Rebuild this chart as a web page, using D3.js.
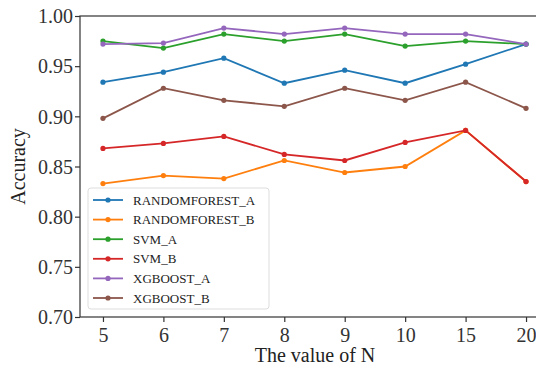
<!DOCTYPE html>
<html>
<head>
<meta charset="utf-8">
<script src="https://cdn.jsdelivr.net/npm/d3@7"></script>
<style>
  body { margin: 0; background: #fff; }
  svg { display: block; font-family: "Liberation Serif", "DejaVu Serif", serif; }
</style>
</head>
<body>
<svg id="chart" width="536" height="372"></svg>
<script>
// values
var nValues = ["5", "6", "7", "8", "9", "10", "15", "20"];
var seriesNames = ["RANDOMFOREST_A", "RANDOMFOREST_B", "SVM_A", "SVM_B", "XGBOOST_A", "XGBOOST_B"];
var rfA = [0.934, 0.944, 0.958, 0.933, 0.946, 0.933, 0.952, 0.972];
var rfB = [0.833, 0.841, 0.838, 0.856, 0.844, 0.850, 0.886, 0.835];
var svmA = [0.975, 0.968, 0.982, 0.975, 0.982, 0.970, 0.975, 0.972];
var svmB = [0.868, 0.873, 0.880, 0.862, 0.856, 0.874, 0.886, 0.835];
var xgbA = [0.972, 0.973, 0.988, 0.982, 0.988, 0.982, 0.982, 0.972];
var xgbB = [0.898, 0.928, 0.916, 0.910, 0.928, 0.916, 0.934, 0.908];
var yTicks = [0.70, 0.75, 0.80, 0.85, 0.90, 0.95, 1.00];

var colors = ["#1f77b4", "#ff7f0e", "#2ca02c", "#d62728", "#9467bd", "#8c564b"];
var allSeries = [rfA, rfB, svmA, svmB, xgbA, xgbB];

var svg = d3.select("#chart");
var m = { left: 80, top: 16, bottom: 317, right: 549 };

// categorical positions, matplotlib style margins
var x = d3.scaleLinear().domain([-0.38, nValues.length - 1 + 0.38]).range([m.left, m.right]);
var y = d3.scaleLinear().domain([0.70, 1.00]).range([m.bottom, m.top]);

// axes
var xAxis = d3.axisBottom(x)
    .tickValues(d3.range(nValues.length))
    .tickFormat(function (i) { return nValues[i]; })
    .tickSize(5).tickSizeOuter(0);
var yAxis = d3.axisLeft(y)
    .tickValues(yTicks)
    .tickFormat(d3.format(".2f"))
    .tickSize(5).tickSizeOuter(0);

var gx = svg.append("g").attr("transform", "translate(0," + m.bottom + ")").call(xAxis);
var gy = svg.append("g").attr("transform", "translate(" + m.left + ",0)").call(yAxis);
[gx, gy].forEach(function (g) {
    g.select(".domain").remove();
    g.selectAll("line").attr("stroke", "#333").attr("stroke-width", 1.2);
    g.selectAll("text").attr("fill", "#333").style("font-size", "20px")
        .style("font-family", "'Liberation Serif', serif");
});
gx.selectAll("text").attr("dy", "0.95em").attr("y", 6);
gy.selectAll("text").attr("x", -7).attr("dy", "0.34em");

// frame
svg.append("rect")
    .attr("x", m.left).attr("y", m.top)
    .attr("width", m.right - m.left).attr("height", m.bottom - m.top)
    .attr("fill", "none").attr("stroke", "#333").attr("stroke-width", 1.2);

// lines
var line = d3.line()
    .x(function (d, i) { return x(i); })
    .y(function (d) { return y(d); });

allSeries.forEach(function (vals, k) {
    svg.append("path")
        .datum(vals)
        .attr("d", line)
        .attr("fill", "none")
        .attr("stroke", colors[k])
        .attr("stroke-width", 1.8);
    svg.selectAll(".pt" + k)
        .data(vals)
        .enter().append("circle")
        .attr("cx", function (d, i) { return x(i); })
        .attr("cy", function (d) { return y(d); })
        .attr("r", 2.6)
        .attr("fill", colors[k]);
});

// axis labels
svg.append("text")
    .attr("x", (m.left + 536) / 2 + 7).attr("y", 362)
    .attr("text-anchor", "middle")
    .style("font-size", "20px").attr("fill", "#222")
    .text("The value of N");
svg.append("text")
    .attr("transform", "translate(25," + ((m.top + m.bottom) / 2) + ") rotate(-90)")
    .attr("text-anchor", "middle")
    .style("font-size", "20px").attr("fill", "#222")
    .text("Accuracy");

// legend
var legend = svg.append("g");
legend.append("rect")
    .attr("x", 88).attr("y", 188)
    .attr("width", 181).attr("height", 121)
    .attr("rx", 3)
    .attr("fill", "#fff").attr("fill-opacity", 0.8)
    .attr("stroke", "#ddd");
seriesNames.forEach(function (name, k) {
    var ly = 200 + k * 19.6;
    legend.append("line")
        .attr("x1", 93).attr("x2", 123).attr("y1", ly).attr("y2", ly)
        .attr("stroke", colors[k]).attr("stroke-width", 1.8);
    legend.append("circle")
        .attr("cx", 108).attr("cy", ly).attr("r", 2.6).attr("fill", colors[k]);
    legend.append("text")
        .attr("x", 133).attr("y", ly).attr("dy", "0.35em")
        .style("font-size", "13px").attr("fill", "#222")
        .text(name);
});
</script>
</body>
</html>
